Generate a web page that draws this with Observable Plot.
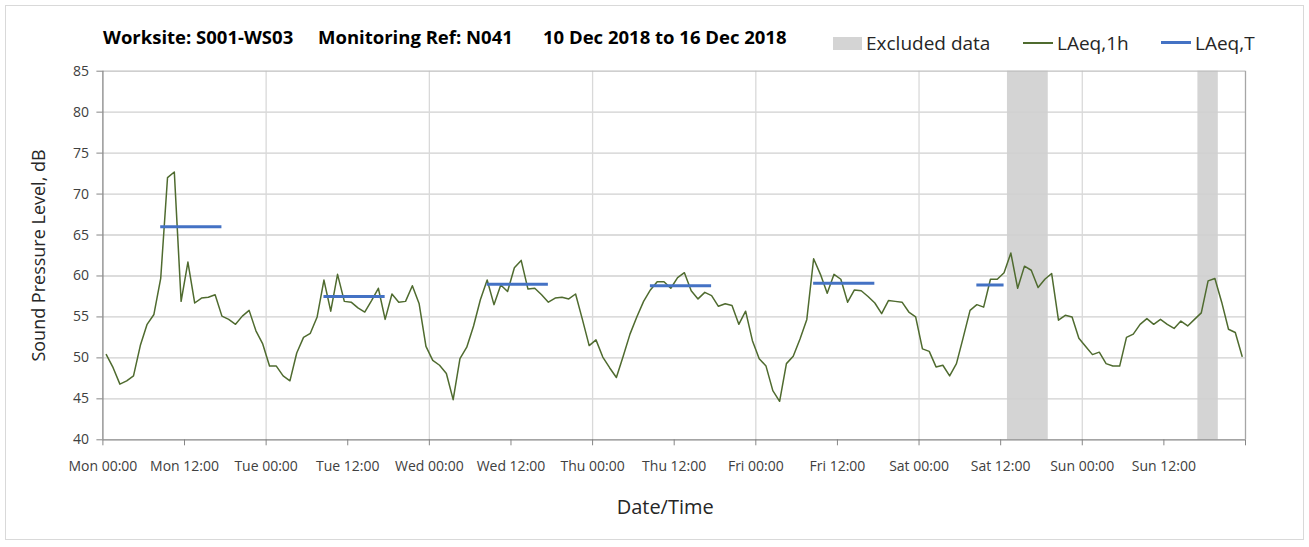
<!DOCTYPE html>
<html>
<head>
<meta charset="utf-8">
<script src="https://cdn.jsdelivr.net/npm/d3@7"></script>
<script src="https://cdn.jsdelivr.net/npm/@observablehq/plot@0.6"></script>
<style>
  body { margin: 0; background: #fff; font-family: "Open Sans", "DejaVu Sans", sans-serif; }
  #wrap { position: relative; width: 1309px; height: 547px; overflow: hidden; }
  #frame { position: absolute; left: 5px; top: 5px; width: 1299px; height: 535px; border: 1px solid #d9d9d9; box-sizing: border-box; pointer-events: none; }
  #head { position: relative; height: 56px; }
  .t { position: absolute; top: 26px; font-weight: bold; font-size: 18.5px; color: #000; white-space: pre; line-height: 22px; }
  .lg { position: absolute; top: 30px; font-size: 19px; color: #262626; white-space: pre; line-height: 26px; }
  .sw { position: absolute; }
</style>
</head>
<body>
<div id="wrap">
  <div id="head">
    <div class="t" id="t1" style="left:103px"></div>
    <div class="t" id="t2" style="left:318px"></div>
    <div class="t" id="t3" style="left:543px"></div>
    <div class="sw" style="left:833px;top:37px;width:29px;height:13px;background:#d4d4d4"></div>
    <div class="lg" id="l1" style="left:866px"></div>
    <div class="sw" style="left:1023px;top:42px;width:30px;height:1.5px;background:#4f6b2f"></div>
    <div class="lg" id="l2" style="left:1057px"></div>
    <div class="sw" style="left:1161px;top:41px;width:30px;height:3px;background:#4472c4"></div>
    <div class="lg" id="l3" style="left:1195px"></div>
  </div>
  <div id="chart"></div>
  <div id="frame"></div>
</div>
<script>
// ---- Text ----
const titleParts = ["Worksite: S001-WS03", "Monitoring Ref: N041", "10 Dec 2018 to 16 Dec 2018"];
const legendLabels = ["Excluded data", "LAeq,1h", "LAeq,T"];
const yLabel = "Sound Pressure Level, dB";
const xLabel = "Date/Time";

// ---- Axis ticks ----
const xTickHours = [0, 12, 24, 36, 48, 60, 72, 84, 96, 108, 120, 132, 144, 156, 168];
const xTickLabels = ["Mon 00:00", "Mon 12:00", "Tue 00:00", "Tue 12:00", "Wed 00:00", "Wed 12:00",
  "Thu 00:00", "Thu 12:00", "Fri 00:00", "Fri 12:00", "Sat 00:00", "Sat 12:00", "Sun 00:00", "Sun 12:00", ""];
const yTicks = [40, 45, 50, 55, 60, 65, 70, 75, 80, 85];
const dayBoundaries = [24, 48, 72, 96, 120, 144];

// ---- LAeq,1h hourly values (hours since Mon 00:00, plotted at mid-hour) ----
const firstHourMid = 0.5;
const laeq1h = [
  50.4, 48.8, 46.8, 47.2, 47.8, 51.5, 54.1, 55.3, 59.7, 72.0, 72.7, 56.9, 61.7, 56.7, 57.3, 57.4, 57.7, 55.1, 54.7, 54.1, 55.1, 55.8, 53.3, 51.7,
  49.0, 49.0, 47.8, 47.2, 50.6, 52.5, 53.0, 55.0, 59.5, 55.7, 60.2, 56.9, 56.8, 56.1, 55.6, 57.0, 58.5, 54.7, 57.8, 56.8, 56.9, 58.8, 56.6, 51.4,
  49.7, 49.1, 48.1, 44.9, 49.9, 51.3, 53.9, 57.1, 59.5, 56.5, 58.9, 58.1, 61.0, 61.9, 58.4, 58.5, 57.7, 56.8, 57.3, 57.4, 57.2, 57.8, 54.7, 51.5,
  52.2, 50.1, 48.8, 47.6, 50.2, 52.9, 55.0, 56.9, 58.3, 59.3, 59.3, 58.5, 59.8, 60.4, 58.2, 57.2, 58.0, 57.6, 56.3, 56.6, 56.4, 54.1, 55.7, 52.1,
  49.9, 49.0, 46.0, 44.7, 49.3, 50.2, 52.3, 54.7, 62.1, 60.2, 57.9, 60.2, 59.6, 56.8, 58.3, 58.2, 57.5, 56.7, 55.4, 57.0, 56.9, 56.8, 55.6, 55.0,
  51.1, 50.8, 48.9, 49.1, 47.8, 49.3, 52.5, 55.8, 56.5, 56.2, 59.6, 59.6, 60.4, 62.8, 58.5, 61.2, 60.7, 58.6, 59.6, 60.3, 54.6, 55.2, 55.0, 52.4,
  51.4, 50.4, 50.7, 49.3, 49.0, 49.0, 52.5, 52.9, 54.1, 54.8, 54.1, 54.7, 54.1, 53.6, 54.5, 53.9, 54.7, 55.5, 59.4, 59.7, 56.8, 53.5, 53.1, 50.2
];

// ---- LAeq,T daytime periods ----
const periodStart = [8.5, 32.5, 56.5, 80.5, 104.5, 128.5];
const periodEnd   = [17.5, 41.5, 65.5, 89.5, 113.5, 132.5];
const laeqT       = [66.0, 57.5, 59.0, 58.8, 59.1, 58.9];

// ---- Excluded data periods ----
const excludedStart = [133, 161];
const excludedEnd   = [139, 164];

document.getElementById("t1").textContent = titleParts[0];
document.getElementById("t2").textContent = titleParts[1];
document.getElementById("t3").textContent = titleParts[2];
document.getElementById("l1").textContent = legendLabels[0];
document.getElementById("l2").textContent = legendLabels[1];
document.getElementById("l3").textContent = legendLabels[2];

const hourly = laeq1h.map((v, i) => ({h: firstHourMid + i, v}));
const periods = laeqT.map((v, i) => ({start: periodStart[i], end: periodEnd[i], v}));
const excluded = excludedStart.map((s, i) => ({start: s, end: excludedEnd[i]}));

const chart = Plot.plot({
  width: 1309,
  height: 491,
  marginLeft: 102.4,
  marginRight: 64,
  marginTop: 14.7,
  marginBottom: 107.7,
  x: {type: "linear", domain: [0, 168]},
  y: {type: "linear", domain: [40, 85]},
  style: {fontFamily: "'Open Sans', sans-serif", fontSize: "14px", color: "#404040", background: "transparent", overflow: "visible"},
  marks: [
    Plot.rect(excluded, {x1: "start", x2: "end", fill: "#d4d4d4"}),
    Plot.gridY(yTicks.filter(d => d > 40 && d < 85), {stroke: "#d0d0d0", strokeOpacity: 1, strokeWidth: 1.3}),
    Plot.gridX(dayBoundaries, {stroke: "#d9d9d9", strokeOpacity: 1, strokeWidth: 1.3}),
    Plot.ruleY([85], {stroke: "#bfbfbf", strokeWidth: 1.3}),
    Plot.ruleX([168], {stroke: "#a6a6a6", strokeWidth: 1.3}),
    Plot.ruleX([0], {stroke: "#868686", strokeWidth: 1.3}),
    Plot.ruleY([40], {stroke: "#868686", strokeWidth: 1.3}),
    Plot.lineY(hourly, {x: "h", y: "v", stroke: "#4f6b2f", strokeWidth: 1.5}),
    Plot.ruleY(periods, {y: "v", x1: "start", x2: "end", stroke: "#4472c4", strokeWidth: 3}),
    Plot.axisX({ticks: xTickHours, tickFormat: d => xTickLabels[xTickHours.indexOf(d)], tickSize: 6, tickPadding: 15, label: null, stroke: "#868686", fill: "#404040", fontSize: 14}),
    Plot.axisY({ticks: yTicks, tickSize: 6, tickPadding: 8, label: null, stroke: "#868686", fill: "#404040", fontSize: 14}),
    Plot.text([yLabel], {text: d => d, frameAnchor: "left", textAnchor: "middle", rotate: -90, dx: -64, fontSize: 18, fill: "#262626"}),
    Plot.text([xLabel], {text: d => d, frameAnchor: "bottom", textAnchor: "middle", dy: 74, dx: -9, fontSize: 20, fill: "#262626"})
  ]
});
document.getElementById("chart").appendChild(chart);
</script>
</body>
</html>
